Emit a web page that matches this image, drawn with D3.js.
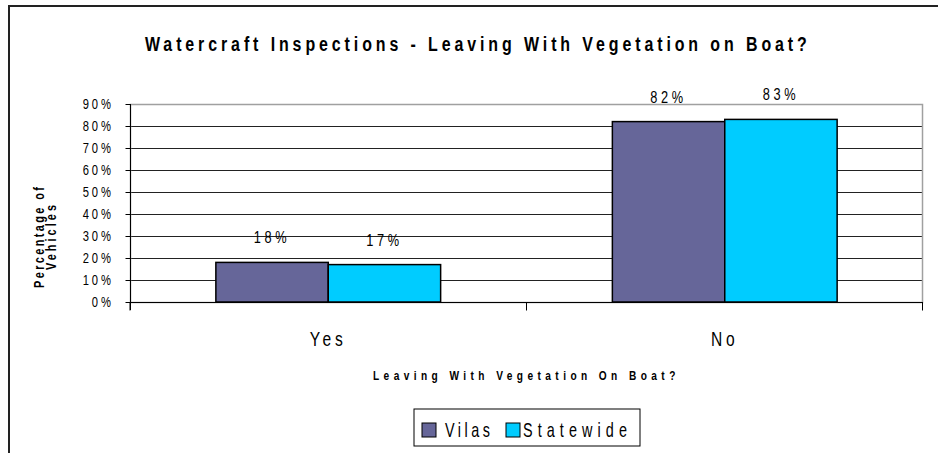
<!DOCTYPE html>
<html>
<head>
<meta charset="utf-8">
<script src="https://cdn.jsdelivr.net/npm/d3@7"></script>
<style>
  body { margin: 0; background: #fff; }
  text { font-family: "Liberation Sans Narrow", "Arial Narrow", "Liberation Sans", Arial, sans-serif; fill: #000; }
  .grid line { stroke: #222; stroke-width: 1; }
  .axis path, .axis line { stroke: #000; }
</style>
</head>
<body>
<div id="chart"></div>
<script>
// Data
var categories = ["Yes", "No"];
var seriesNames = ["Vilas", "Statewide"];
var vilas = [0.18, 0.82];
var statewide = [0.17, 0.83];
var yTicks = [0, 0.1, 0.2, 0.3, 0.4, 0.5, 0.6, 0.7, 0.8, 0.9];
var colors = ["#666699", "#00ccff"];

// Narrow glyphs (Arial Narrow look) with wide letter spacing.
// Text is squeezed horizontally by k through a transform.
function narrowText(parent, x, y, str, o) {
    var k = o.k || 0.8;
    var t = parent.append("text")
        .attr("x", 0).attr("y", 0)
        .attr("text-anchor", o.anchor || "start")
        .style("font-size", o.size + "px")
        .style("font-weight", o.weight || "normal")
        .text(str);
    var s = o.spacing || 0;
    if (o.width) {
        var L0 = t.node().getComputedTextLength();
        s = Math.max(0, (o.width / k - L0) / (str.length - 1));
    }
    t.style("letter-spacing", s + "px");
    var dx = 0;
    // ink ends before the trailing spacing
    if (o.anchor === "end") dx = s * k;
    t.attr("transform", "translate(" + (x + dx) + "," + y + ") scale(" + k + ",1)");
    return t;
}

function init() {
    var W = 938, H = 453;
    var left = 130, top = 104;
    var w = 793, h = 198;

    var svg = d3.select("#chart")
        .append("svg")
        .attr("width", W)
        .attr("height", H);

    // outer chart border (runs off the right and bottom edge)
    svg.append("rect")
        .attr("x", 9).attr("y", 6)
        .attr("width", 960).attr("height", 470)
        .attr("fill", "none")
        .attr("stroke", "#222")
        .attr("stroke-width", 2);

    // Title
    narrowText(svg, 145, 51, "Watercraft Inspections - Leaving With Vegetation on Boat?",
        { size: 21, weight: "bold", width: 662, k: 0.76 });

    var g = svg.append("g")
        .attr("transform", "translate(" + left + "," + top + ")");

    var xScale = d3.scaleBand()
        .domain(categories)
        .range([0, w]);

    var xInner = d3.scaleBand()
        .domain(seriesNames)
        .range([0, xScale.bandwidth()])
        .paddingOuter(0.764);

    var yScale = d3.scaleLinear()
        .domain([0, 0.9])
        .range([h, 0]);

    // gridlines
    g.append("g")
        .attr("class", "grid")
        .selectAll("line")
        .data(yTicks.filter(function (d) { return d > 0 && d < 0.9; }))
        .enter().append("line")
        .attr("x1", 0).attr("x2", w)
        .attr("y1", function (d) { return Math.round(yScale(d)) + 0.5; })
        .attr("y2", function (d) { return Math.round(yScale(d)) + 0.5; });

    // plot area border (grey)
    g.append("rect")
        .attr("x", 0.5).attr("y", 0.5)
        .attr("width", w - 1).attr("height", h)
        .attr("fill", "none")
        .attr("stroke", "#a0a0a0")
        .attr("stroke-width", 1.5);

    // bars
    var rows = categories.map(function (c, i) {
        return { cat: c, values: [vilas[i], statewide[i]] };
    });

    var groups = g.selectAll(".cat")
        .data(rows)
        .enter().append("g")
        .attr("class", "cat")
        .attr("transform", function (d) { return "translate(" + xScale(d.cat) + ",0)"; });

    groups.selectAll("rect")
        .data(function (d) {
            return d.values.map(function (v, j) { return { name: seriesNames[j], value: v, j: j }; });
        })
        .enter().append("rect")
        .attr("x", function (d) { return xInner(d.name); })
        .attr("y", function (d) { return yScale(d.value); })
        .attr("width", xInner.bandwidth())
        .attr("height", function (d) { return h - yScale(d.value); })
        .attr("fill", function (d) { return colors[d.j]; })
        .attr("stroke", "#000")
        .attr("stroke-width", 1.5);

    // value labels
    groups.each(function (d) {
        var grp = d3.select(this);
        d.values.forEach(function (v, j) {
            narrowText(grp,
                xInner(seriesNames[j]) + xInner.bandwidth() / 2,
                yScale(v) - 19,
                Math.round(v * 100) + "%",
                { size: 16, anchor: "middle", spacing: 4.5, k: 0.8 });
        });
    });

    // y axis (line + ticks from d3, labels squeezed)
    var yAxis = d3.axisLeft(yScale)
        .tickValues(yTicks)
        .tickSize(5)
        .tickFormat("");

    var ya = g.append("g")
        .attr("class", "axis")
        .attr("transform", "translate(0.5,0)")
        .call(yAxis);
    ya.select(".domain").attr("d", "M0,0V" + (h + 8));
    ya.selectAll("text").remove();
    yTicks.forEach(function (v) {
        narrowText(g, 111 - left, yScale(v) + 5, Math.round(v * 100) + "%",
            { size: 14, anchor: "end", spacing: 3.7, k: 0.8 });
    });

    // x axis
    var xAxis = d3.axisBottom(xScale).tickSize(0).tickFormat("");
    var xa = g.append("g")
        .attr("class", "axis")
        .attr("transform", "translate(0," + (h + 0.5) + ")")
        .call(xAxis);
    xa.select(".domain").attr("d", "M0,0H" + w);
    xa.selectAll("text").remove();
    categories.forEach(function (c) {
        narrowText(g, xScale(c) + xScale.bandwidth() / 2, 346 - top, c,
            { size: 20, anchor: "middle", spacing: 5, k: 0.78 });
    });

    // category separator ticks
    xa.selectAll(".sep")
        .data([0, 1, 2])
        .enter().append("line")
        .attr("class", "sep")
        .attr("x1", function (d) { return Math.min(d * xScale.step(), w - 0.5); })
        .attr("x2", function (d) { return Math.min(d * xScale.step(), w - 0.5); })
        .attr("y1", 0).attr("y2", 8)
        .attr("stroke", "#000");

    // axis titles
    narrowText(svg, 373, 380, "Leaving  With Vegetation On Boat?",
        { size: 13, weight: "bold", width: 307, k: 0.78 });

    var ytl = svg.append("g").attr("transform", "translate(0,238) rotate(-90)");
    narrowText(ytl, -50, 44, "Percentage of", { size: 14, weight: "bold", width: 101, k: 0.78 });
    narrowText(ytl, -32, 56, "Vehicles", { size: 14, weight: "bold", width: 65, k: 0.78 });

    // legend
    var lg = svg.append("g").attr("transform", "translate(414,409)");
    lg.append("rect")
        .attr("width", 226).attr("height", 37)
        .attr("fill", "#fff")
        .attr("stroke", "#000")
        .attr("stroke-width", 1);
    var legX = [8, 92];
    var legTextX = [31, 109];
    var legTextW = [45, 104];
    seriesNames.forEach(function (name, i) {
        lg.append("rect")
            .attr("x", legX[i]).attr("y", 14)
            .attr("width", 14).attr("height", 14)
            .attr("fill", colors[i])
            .attr("stroke", "#000");
        narrowText(lg, legTextX[i], 28, name, { size: 20, width: legTextW[i], k: 0.72 });
    });
}

init();
</script>
</body>
</html>
